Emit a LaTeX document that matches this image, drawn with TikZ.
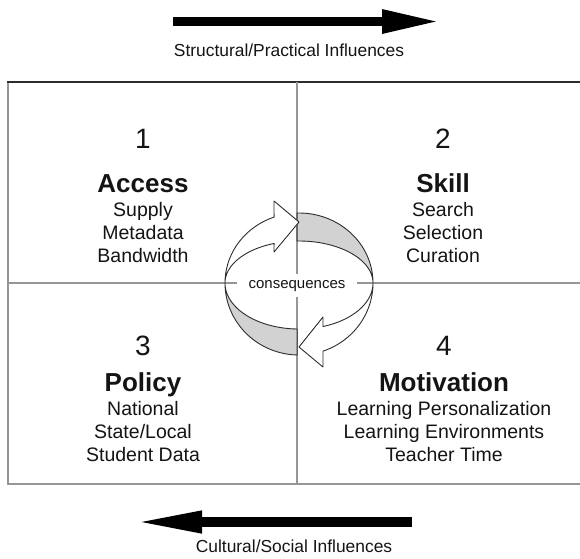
\documentclass[tikz,border=0pt]{standalone}
\usepackage{fontspec}
\setmainfont{Liberation Sans}
\usetikzlibrary{arrows.meta}
\definecolor{bandgray}{RGB}{210,210,210}
\definecolor{linegray}{RGB}{150,150,150}
\definecolor{edgedark}{RGB}{45,45,45}
\definecolor{textdark}{RGB}{20,20,20}

\begin{document}
\begin{tikzpicture}[x=1pt,y=-1pt,
  num/.style={anchor=base,text=textdark,font=\fontsize{28}{30}\selectfont},
  heading/.style={anchor=base,text=textdark,font=\fontsize{26}{28}\selectfont\bfseries},
  item/.style={anchor=base,text=textdark,font=\fontsize{19.5}{22}\selectfont},
  caption/.style={anchor=base,text=textdark,font=\fontsize{17.4}{20}\selectfont},
  divider/.style={draw=linegray,line width=1.6pt},
  ring/.style={draw=edgedark,line width=0.9pt,line join=round},
  bigarrow/.style={draw=black,line width=#1},
]
\useasboundingbox (0,0) rectangle (580,558);

% influence arrows
\coordinate (ts) at (173,21.5);
\coordinate (te) at (440,21.5);
\draw[bigarrow=9pt,-{Triangle[length=58pt,width=22pt]}] (ts) -- (te);
\node[caption] (toplabel) at (289,56) {Structural/Practical Influences};

\coordinate (bs) at (412,522);
\coordinate (be) at (133,522);
\draw[bigarrow=10pt,-{Triangle[length=69pt,width=20pt]}] (bs) -- (be);
\node[caption] (botlabel) at (294,552) {Cultural/Social Influences};

% frame and quadrant dividers
\draw[divider] (8,82) -- (8,484) -- (586,484);
\draw[draw=edgedark,line width=1.4pt] (7.2,82) -- (586,82);
\draw[divider] (297,82) -- (297,484);
\draw[divider] (8,283) -- (586,283);

% cycle of consequences: back bands
\draw[ring,fill=bandgray]
  plot[domain=268.5:360,samples=50] ({299+74*cos(\x)},{283+70*sin(\x)})
  -- plot[domain=360:268.5,samples=50] ({299+74*cos(\x)},{283+42*sin(\x)})
  -- cycle;
\draw[ring,fill=bandgray]
  plot[domain=91.5:180,samples=50] ({299+74*cos(\x)},{283+72*sin(\x)})
  -- plot[domain=180:91.5,samples=50] ({299+74*cos(\x)},{283+46*sin(\x)})
  -- cycle;

% cycle of consequences: front arrows
\draw[ring,fill=white]
  plot[domain=180:250.3,samples=50] ({299+74*cos(\x)},{283+70*sin(\x)})
  -- (274,201) -- (299,222) -- (274,252)
  -- plot[domain=250.3:180,samples=50] ({299+74*cos(\x)},{283+42*sin(\x)})
  -- cycle;
\draw[ring,fill=white]
  plot[domain=0:71.1,samples=50] ({299+74*cos(\x)},{283+72*sin(\x)})
  -- (323,367) -- (299,347) -- (323,317)
  -- plot[domain=71.1:0,samples=50] ({299+74*cos(\x)},{283+46*sin(\x)})
  -- cycle;

\node[anchor=base,fill=white,text=textdark,font=\fontsize{15}{18}\selectfont,
  text height=11pt,text depth=4pt,inner xsep=12pt,inner ysep=4pt]
  (cons) at (297,288.5) {consequences};

% quadrant 1
\node[num] (n1) at (143,148) {1};
\node[heading] (h1) at (143,192) {Access};
\node[item] (a1) at (143,216) {Supply};
\node[item] (a2) at (143,239) {Metadata};
\node[item] (a3) at (143,262) {Bandwidth};

% quadrant 2
\node[num] (n2) at (443,148) {2};
\node[heading] (h2) at (443,192) {Skill};
\node[item] (s1) at (443,216) {Search};
\node[item] (s2) at (443,239) {Selection};
\node[item] (s3) at (443,262) {Curation};

% quadrant 3
\node[num] (n3) at (143,355) {3};
\node[heading] (h3) at (143,391) {Policy};
\node[item] (p1) at (143,415) {National};
\node[item] (p2) at (143,438) {State/Local};
\node[item] (p3) at (143,461) {Student Data};

% quadrant 4
\node[num] (n4) at (444,355) {4};
\node[heading] (h4) at (444,391) {Motivation};
\node[item] (m1) at (444,415) {Learning Personalization};
\node[item] (m2) at (444,438) {Learning Environments};
\node[item] (m3) at (444,461) {Teacher Time};
\end{tikzpicture}
\end{document}
